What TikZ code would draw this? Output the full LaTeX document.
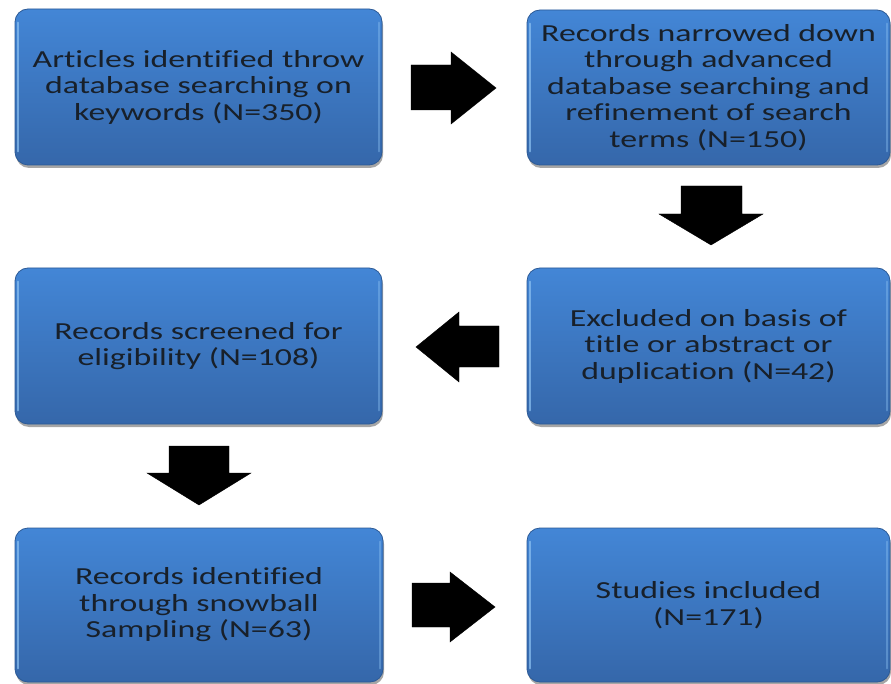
\documentclass[tikz,border=0pt]{standalone}
\usepackage{fontspec}
\setmainfont[FakeStretch=1.38,Ligatures={NoCommon}]{Carlito}
\usetikzlibrary{shadows,calc}
\definecolor{boxtop}{HTML}{4386D6}
\definecolor{boxbot}{HTML}{3567AA}
\definecolor{boxedge}{HTML}{2C5A96}
\definecolor{boxhl}{HTML}{8DC2F2}
\definecolor{txt}{HTML}{18202A}
\tikzset{
  flowbox/.style={draw=boxedge, line width=0.8pt, rounded corners=13pt,
    top color=boxtop, bottom color=boxbot, align=center, text=txt,
    font=\fontsize{24.5}{26.5}\selectfont, inner sep=0pt,
    drop shadow={shadow xshift=1pt, shadow yshift=-3pt, opacity=0.35, fill=black}},
  edgehl/.style={boxhl, line width=2.2pt, line cap=round, opacity=0.7},
  blockarrow/.style={fill=black, draw=black, line width=0.4pt, line join=miter}
}
\begin{document}
\begin{tikzpicture}[x=1pt,y=-1pt]
\useasboundingbox (0,0) rectangle (891,684);
\fill[white] (0,0) rectangle (891,684);

\node[flowbox, minimum width=367pt, minimum height=156pt] (b1) at (198.5,87)
  {Articles identified throw\\database searching on\\keywords (N=350)};
\node[flowbox, minimum width=363pt, minimum height=155pt] (b2) at (708.5,87.5)
  {Records narrowed down\\through advanced\\database searching and\\refinement of search\\terms (N=150)};
\node[flowbox, minimum width=367pt, minimum height=156pt] (b3) at (198.5,346)
  {Records screened for\\eligibility (N=108)};
\node[flowbox, minimum width=363pt, minimum height=156pt] (b4) at (708.5,346)
  {Excluded on basis of\\title or abstract or\\duplication (N=42)};
\node[flowbox, minimum width=368pt, minimum height=154pt] (b5) at (199,605)
  {Records identified\\through snowball\\Sampling (N=63)};
\node[flowbox, minimum width=363pt, minimum height=154pt] (b6) at (708.5,605)
  {Studies included\\(N=171)};

\foreach \b in {b1,b2,b3,b4,b5,b6}{
  \draw[edgehl] ($(\b.north west)+(3.5,14)$) -- ($(\b.south west)+(3.5,-14)$);
  \draw[edgehl, opacity=0.4] ($(\b.north east)+(-3.5,14)$) -- ($(\b.south east)+(-3.5,-14)$);
}

% block arrows
\fill[blockarrow] (411,65) -- (451,65) -- (451,52) -- (496,88) -- (451,124) -- (451,110) -- (411,110) -- cycle;
\fill[blockarrow] (681,186) -- (742,186) -- (742,214) -- (763,214) -- (711,245) -- (659,214) -- (681,214) -- cycle;
\fill[blockarrow] (499,326) -- (459,326) -- (459,312) -- (416,347) -- (459,382) -- (459,367) -- (499,367) -- cycle;
\fill[blockarrow] (169,446) -- (229,446) -- (229,473) -- (251,473) -- (199,505) -- (147,473) -- (169,473) -- cycle;
\fill[blockarrow] (412,583) -- (450,583) -- (450,572) -- (495,607) -- (450,642) -- (450,627) -- (412,627) -- cycle;
\end{tikzpicture}
\end{document}
